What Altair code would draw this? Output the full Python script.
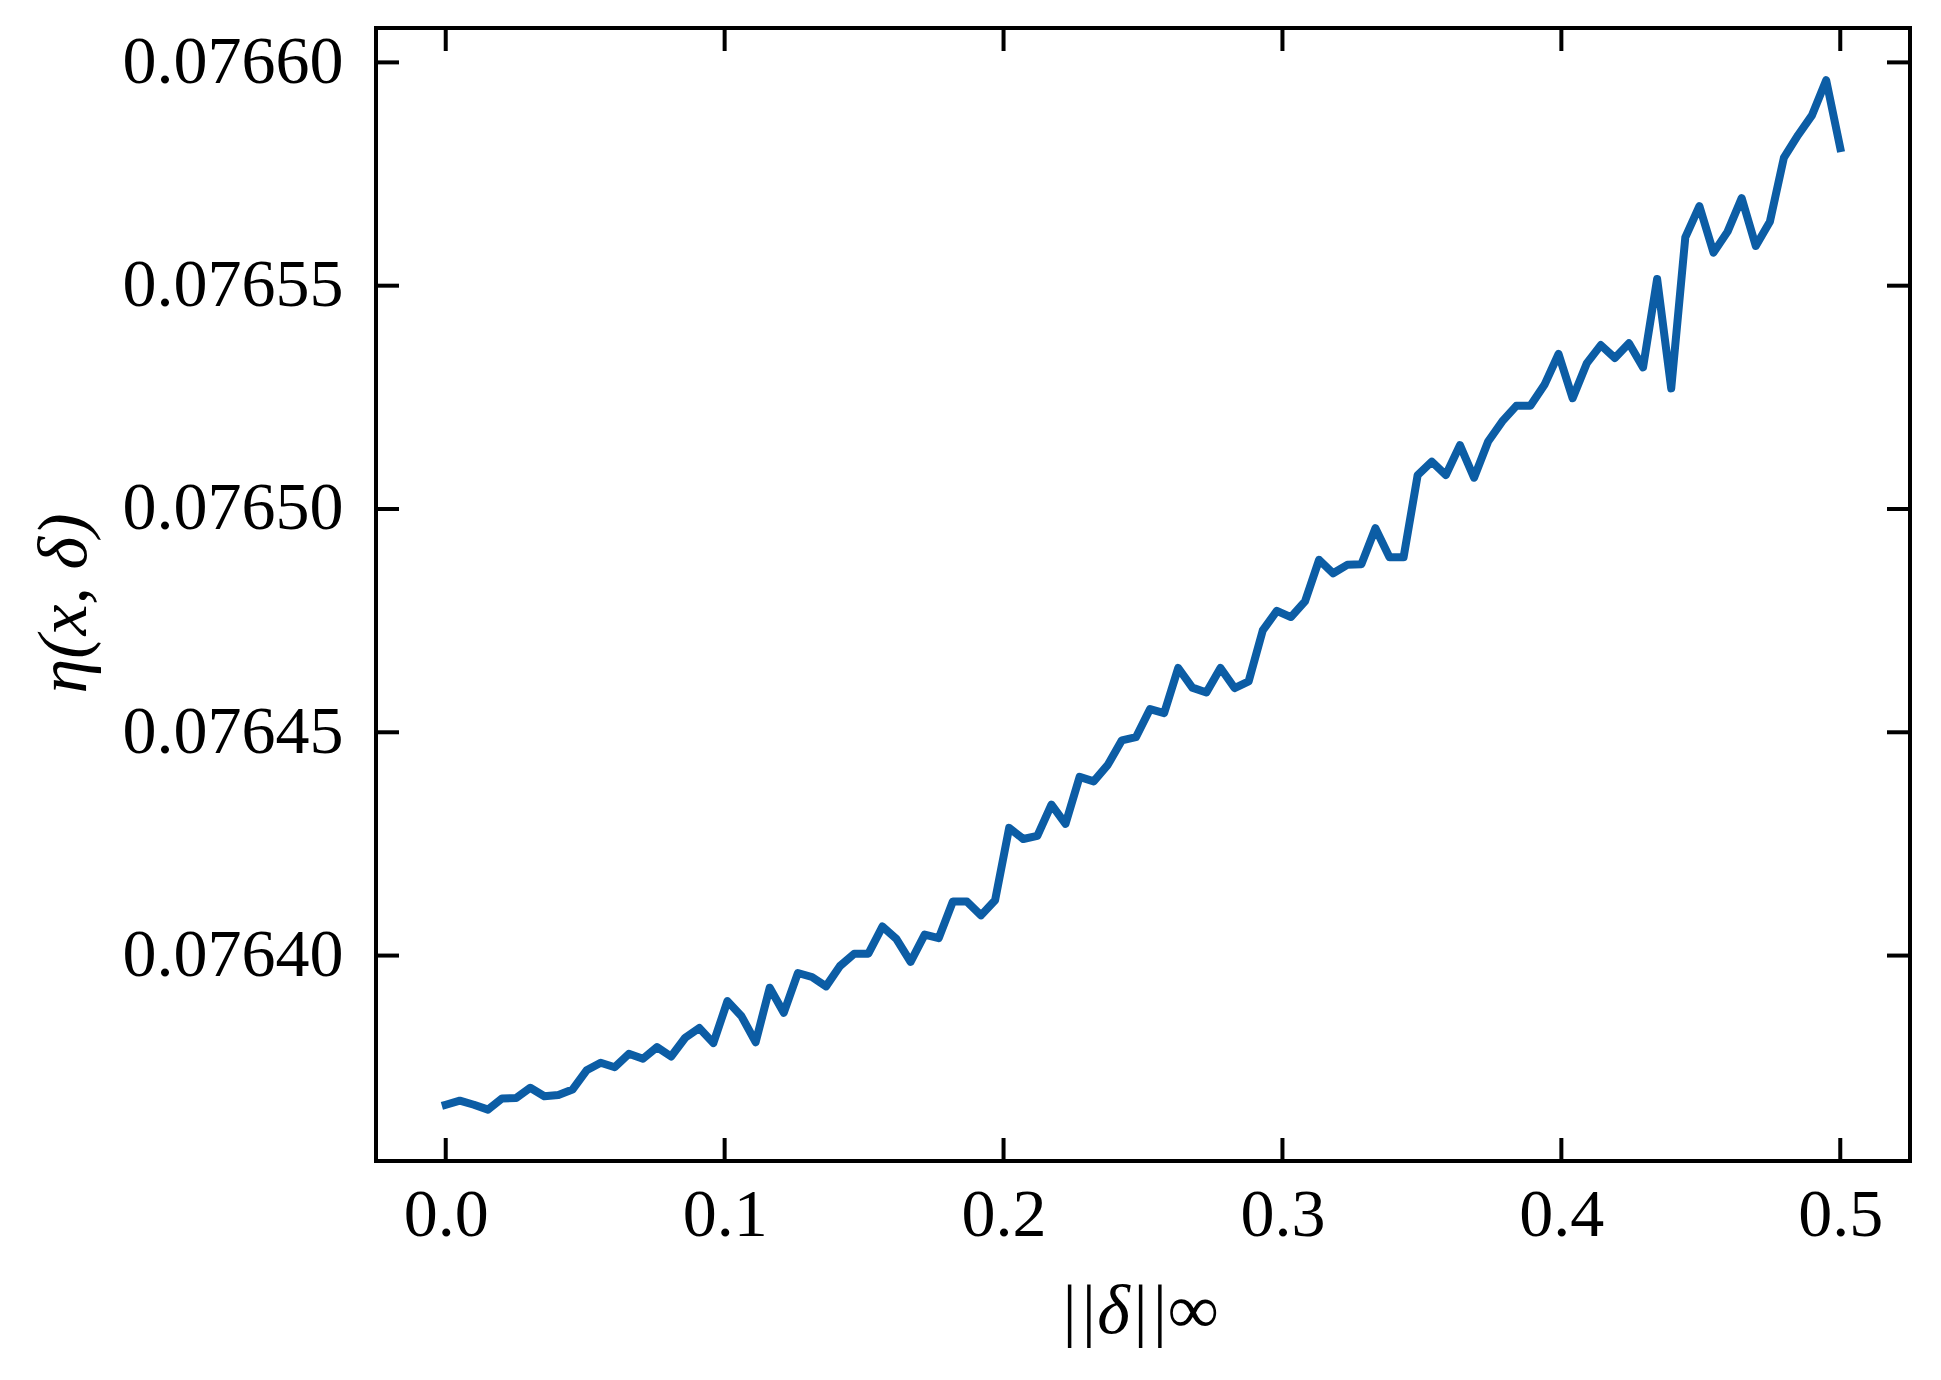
import altair as alt
import pandas as pd

# ---- data ----
delta_inf = [
    0.0, 0.00505, 0.0101, 0.01515, 0.0202, 0.02525, 0.0303, 0.03535, 0.0404, 0.04545,
    0.05051, 0.05556, 0.06061, 0.06566, 0.07071, 0.07576, 0.08081, 0.08586, 0.09091, 0.09596,
    0.10101, 0.10606, 0.11111, 0.11616, 0.12121, 0.12626, 0.13131, 0.13636, 0.14141, 0.14646,
    0.15152, 0.15657, 0.16162, 0.16667, 0.17172, 0.17677, 0.18182, 0.18687, 0.19192, 0.19697,
    0.20202, 0.20707, 0.21212, 0.21717, 0.22222, 0.22727, 0.23232, 0.23737, 0.24242, 0.24747,
    0.25253, 0.25758, 0.26263, 0.26768, 0.27273, 0.27778, 0.28283, 0.28788, 0.29293, 0.29798,
    0.30303, 0.30808, 0.31313, 0.31818, 0.32323, 0.32828, 0.33333, 0.33838, 0.34343, 0.34848,
    0.35354, 0.35859, 0.36364, 0.36869, 0.37374, 0.37879, 0.38384, 0.38889, 0.39394, 0.39899,
    0.40404, 0.40909, 0.41414, 0.41919, 0.42424, 0.42929, 0.43434, 0.43939, 0.44444, 0.44949,
    0.45455, 0.45960, 0.46465, 0.46970, 0.47475, 0.47980, 0.48485, 0.48990, 0.49495, 0.5,
]

eta = [
    0.0763666, 0.0763675, 0.0763666, 0.0763655, 0.0763680, 0.0763681, 0.0763704, 0.0763685, 0.0763688, 0.0763700,
    0.0763743, 0.0763760, 0.0763750, 0.0763780, 0.0763769, 0.0763795, 0.0763774, 0.0763816, 0.0763838, 0.0763804,
    0.0763898, 0.0763864, 0.0763806, 0.0763928, 0.0763872, 0.0763961, 0.0763952, 0.0763931, 0.0763977, 0.0764004,
    0.0764004, 0.0764065, 0.0764037, 0.0763986, 0.0764047, 0.0764039, 0.0764121, 0.0764121, 0.0764090, 0.0764124,
    0.0764286, 0.0764261, 0.0764268, 0.0764338, 0.0764295, 0.0764400, 0.0764390, 0.0764427, 0.0764482, 0.0764489,
    0.0764552, 0.0764543, 0.0764644, 0.0764600, 0.0764589, 0.0764644, 0.0764599, 0.0764614, 0.0764728, 0.0764772,
    0.0764758, 0.0764793, 0.0764886, 0.0764856, 0.0764875, 0.0764876, 0.0764957, 0.0764892, 0.0764892, 0.0765076,
    0.0765106, 0.0765076, 0.0765143, 0.0765070, 0.0765151, 0.0765196, 0.0765231, 0.0765231, 0.0765278, 0.0765347,
    0.0765248, 0.0765326, 0.0765367, 0.0765338, 0.0765371, 0.0765317, 0.0765515, 0.0765270, 0.0765608, 0.0765678,
    0.0765574, 0.0765621, 0.0765696, 0.0765589, 0.0765643, 0.0765787, 0.0765837, 0.0765882, 0.0765960, 0.0765808,
]

x_ticks = [0.0, 0.1, 0.2, 0.3, 0.4, 0.5]
y_ticks = [0.07640, 0.07645, 0.07650, 0.07655, 0.07660]

x_domain = [-0.025, 0.525]
y_domain = [0.0763540, 0.0766077]

# ---- layout ----
W = 1534
H = 1133
TICK = 23
FONT = "Liberation Serif"
COLOR = "#0C5DA5"

df = pd.DataFrame({"d": delta_inf, "eta": eta})
xt = pd.DataFrame({"d": x_ticks})
yt = pd.DataFrame({"eta": y_ticks})

xscale = alt.Scale(domain=x_domain, nice=False, zero=False)
yscale = alt.Scale(domain=y_domain, nice=False, zero=False)

xaxis = alt.Axis(
    values=x_ticks,
    format=".1f",
    title="||δ||∞",
    titleFontStyle="italic",
    titleFontSize=70,
    titleX=762,
    titleY=150,
    titleBaseline="middle",
    titleAlign="center",
    labelPadding=20,
    labelLimit=0,
)
yaxis = alt.Axis(
    values=y_ticks,
    format=".5f",
    title="η(x, δ)",
    titleFontStyle="italic",
    titleFontSize=70,
    titleAngle=270,
    titleX=-312,
    titleY=575,
    titleBaseline="middle",
    titleAlign="center",
    labelPadding=33,
    labelLimit=0,
)

X = alt.X("d:Q", scale=xscale, axis=xaxis)
Y = alt.Y("eta:Q", scale=yscale, axis=yaxis)

line = alt.Chart(df).mark_line(
    color=COLOR, strokeWidth=8, strokeCap="square", strokeJoin="round"
).encode(x=X, y=Y)

tick_style = dict(color="black", strokeWidth=4)

x_bottom = alt.Chart(xt).mark_rule(**tick_style).encode(
    x=X, y=alt.value(H), y2=alt.value(H - TICK)
)
x_top = alt.Chart(xt).mark_rule(**tick_style).encode(
    x=X, y=alt.value(0), y2=alt.value(TICK)
)
y_left = alt.Chart(yt).mark_rule(**tick_style).encode(
    y=Y, x=alt.value(0), x2=alt.value(TICK)
)
y_right = alt.Chart(yt).mark_rule(**tick_style).encode(
    y=Y, x=alt.value(W), x2=alt.value(W - TICK)
)

chart = (
    alt.layer(line, x_bottom, x_top, y_left, y_right)
    .properties(
        width=W,
        height=H,
        autosize=alt.AutoSizeParams(type="none"),
        padding={"left": 368, "top": 20, "right": 20, "bottom": 200},
        background="white",
    )
    .configure_view(stroke="black", strokeWidth=4)
    .configure_axis(
        ticks=False,
        domain=False,
        grid=False,
        labelFont=FONT,
        labelFontSize=68,
        labelColor="black",
        titleFont=FONT,
        titleFontSize=68,
        titleFontWeight="normal",
        titleColor="black",
    )
)

chart.save("out.html", embed_options={"renderer": "svg", "actions": False})
